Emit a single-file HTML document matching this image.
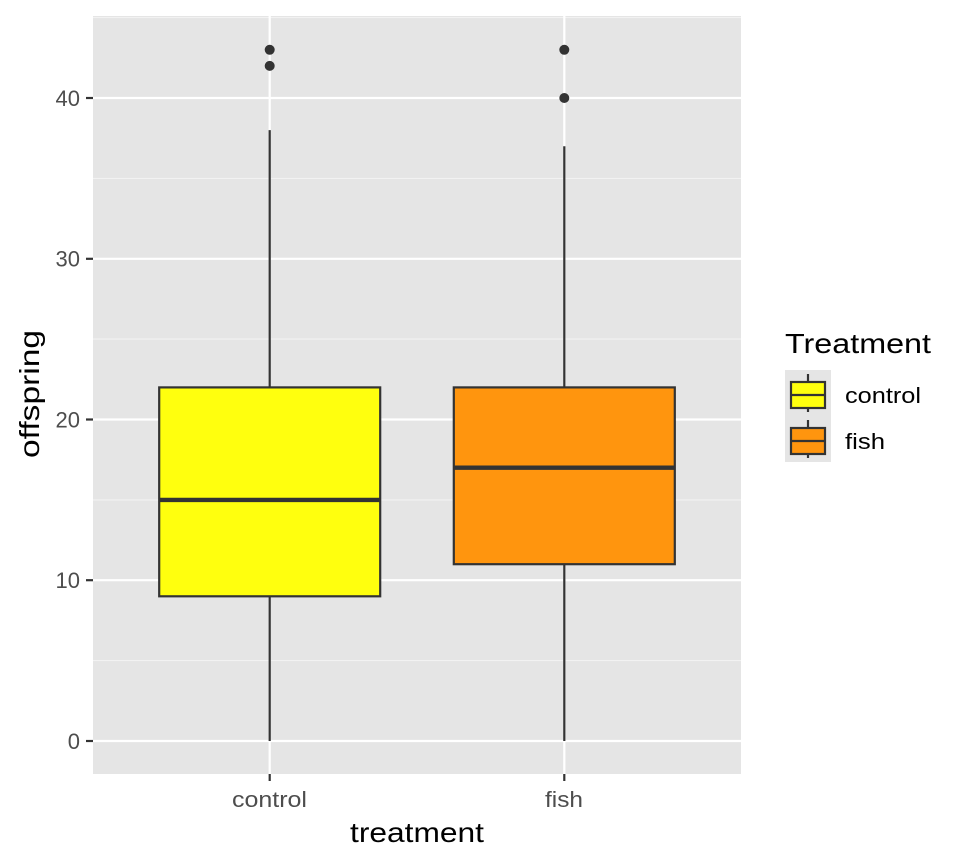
<!DOCTYPE html>
<html><head><style>body{margin:0;background:#fff}svg{display:block}text{font-family:"Liberation Sans",sans-serif}</style></head><body>
<svg width="960" height="864" viewBox="0 0 960 864">
<rect x="93" y="16" width="648" height="758" fill="#e5e5e5"/>
<g stroke="#f2f2f2" stroke-width="1.1">
<line x1="93" x2="741" y1="660.6" y2="660.6"/><line x1="93" x2="741" y1="499.9" y2="499.9"/><line x1="93" x2="741" y1="339.1" y2="339.1"/><line x1="93" x2="741" y1="178.4" y2="178.4"/><line x1="93" x2="741" y1="17.6" y2="17.6"/>
</g>
<g stroke="#fff" stroke-width="2.2">
<line x1="93" x2="741" y1="741" y2="741"/><line x1="93" x2="741" y1="580.2" y2="580.2"/><line x1="93" x2="741" y1="419.5" y2="419.5"/><line x1="93" x2="741" y1="258.8" y2="258.8"/><line x1="93" x2="741" y1="98" y2="98"/>
<line x1="269.7" x2="269.7" y1="16" y2="774"/><line x1="564.3" x2="564.3" y1="16" y2="774"/>
</g>
<g stroke="#333" stroke-width="2.2">
<line x1="269.7" x2="269.7" y1="130.1" y2="741"/>
<rect x="159.2" y="387.4" width="221" height="208.9" fill="#ffff0e"/>
<line x1="159.2" x2="380.2" y1="499.9" y2="499.9" stroke-width="4.4"/>
<line x1="564.3" x2="564.3" y1="146.2" y2="741"/>
<rect x="453.8" y="387.4" width="221" height="176.8" fill="#ff950e"/>
<line x1="453.8" x2="674.8" y1="467.7" y2="467.7" stroke-width="4.4"/>
</g>
<g fill="#333"><circle cx="269.7" cy="65.9" r="5"/><circle cx="269.7" cy="49.8" r="5"/><circle cx="564.3" cy="98" r="5"/><circle cx="564.3" cy="49.8" r="5"/></g>
<g stroke="#333" stroke-width="2.2">
<line x1="86" x2="93" y1="741" y2="741"/><line x1="86" x2="93" y1="580.2" y2="580.2"/><line x1="86" x2="93" y1="419.5" y2="419.5"/><line x1="86" x2="93" y1="258.8" y2="258.8"/><line x1="86" x2="93" y1="98" y2="98"/>
<line x1="269.7" x2="269.7" y1="774" y2="781"/><line x1="564.3" x2="564.3" y1="774" y2="781"/>
</g>
<g fill="#4d4d4d" font-size="22" text-anchor="end">
<text x="80" y="749">0</text><text x="80" y="588">10</text><text x="80" y="427.5">20</text><text x="80" y="266.5">30</text><text x="80" y="106">40</text>
</g>
<g fill="#4d4d4d" font-size="22">
<text x="232" y="807" textLength="75" lengthAdjust="spacingAndGlyphs">control</text><text x="545" y="807" textLength="38" lengthAdjust="spacingAndGlyphs">fish</text>
</g>
<text x="350" y="842" font-size="28" textLength="134" lengthAdjust="spacingAndGlyphs">treatment</text>
<text x="0" y="0" font-size="28" transform="translate(39,458) rotate(-90)" textLength="128" lengthAdjust="spacingAndGlyphs">offspring</text>
<text x="785" y="353" font-size="28" textLength="146" lengthAdjust="spacingAndGlyphs">Treatment</text>
<rect x="785" y="370" width="46" height="92" fill="#e5e5e5"/>
<g stroke="#333" stroke-width="2.2">
<line x1="808" x2="808" y1="374" y2="412"/><rect x="791" y="382" width="34" height="26" fill="#ffff0e"/><line x1="791" x2="825" y1="395" y2="395"/>
<line x1="808" x2="808" y1="420" y2="458"/><rect x="791" y="428" width="34" height="26" fill="#ff950e"/><line x1="791" x2="825" y1="441" y2="441"/>
</g>
<g font-size="22"><text x="845" y="403" textLength="76" lengthAdjust="spacingAndGlyphs">control</text><text x="845" y="449" textLength="40" lengthAdjust="spacingAndGlyphs">fish</text></g>
</svg>
</body></html>
